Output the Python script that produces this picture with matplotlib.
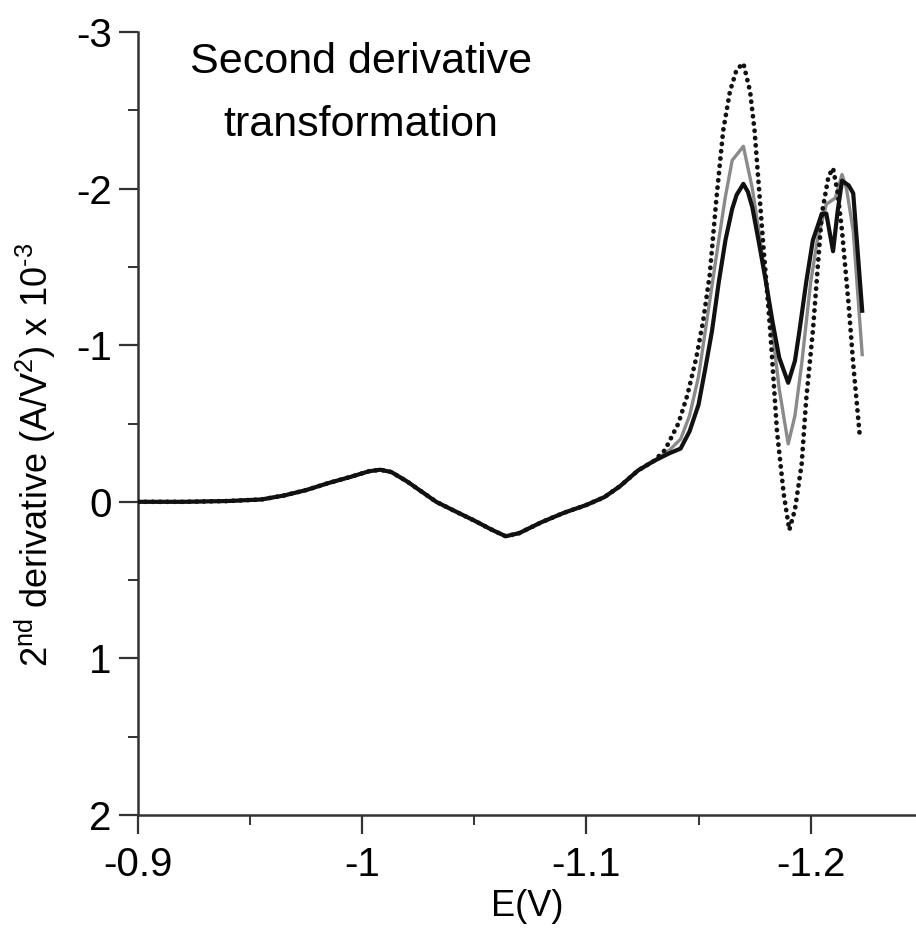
import matplotlib
matplotlib.use("Agg")
import matplotlib.pyplot as plt
from matplotlib.ticker import MultipleLocator, FuncFormatter

plt.rcParams['font.family'] = ['Liberation Sans', 'DejaVu Sans']
plt.rcParams['mathtext.fontset'] = 'custom'
plt.rcParams['mathtext.rm'] = 'Liberation Sans'
plt.rcParams['mathtext.it'] = 'Liberation Sans'

# shared part of the three curves (they overlap up to about -1.13 V)
E_common = [-0.900, -0.920, -0.940, -0.955, -0.965, -0.975, -0.985, -0.995,
            -1.003, -1.008, -1.013, -1.020, -1.027, -1.033, -1.040, -1.050,
            -1.058, -1.064, -1.070, -1.080, -1.090, -1.100, -1.108, -1.115,
            -1.123, -1.130]
d2_common = [0.00, 0.00, -0.005, -0.015, -0.04, -0.075, -0.12, -0.16,
             -0.195, -0.205, -0.19, -0.13, -0.06, 0.00, 0.05, 0.12,
             0.18, 0.22, 0.20, 0.13, 0.07, 0.02, -0.03, -0.10,
             -0.20, -0.26]

# black solid
E_black = [-1.137, -1.142, -1.146, -1.150, -1.153, -1.156, -1.159, -1.162,
           -1.165, -1.167, -1.170, -1.172, -1.174, -1.177, -1.180, -1.183,
           -1.186, -1.190, -1.193, -1.195, -1.198, -1.201, -1.205, -1.207,
           -1.210, -1.212, -1.214, -1.217, -1.219, -1.223]
d2_black = [-0.31, -0.34, -0.45, -0.62, -0.85, -1.09, -1.40, -1.67,
            -1.87, -1.96, -2.03, -1.98, -1.88, -1.65, -1.41, -1.15,
            -0.92, -0.76, -0.90, -1.09, -1.40, -1.67, -1.84, -1.84,
            -1.60, -1.85, -2.05, -2.02, -1.97, -1.22]

# grey solid
E_grey = [-1.137, -1.142, -1.146, -1.150, -1.153, -1.156, -1.159, -1.162,
          -1.165, -1.170, -1.174, -1.177, -1.180, -1.183, -1.186, -1.190,
          -1.193, -1.196, -1.200, -1.203, -1.207, -1.211, -1.214, -1.216,
          -1.219, -1.223]
d2_grey = [-0.33, -0.40, -0.55, -0.80, -1.09, -1.38, -1.67, -1.95,
           -2.18, -2.27, -2.00, -1.72, -1.41, -1.08, -0.72, -0.37,
           -0.55, -0.88, -1.40, -1.67, -1.90, -1.94, -2.09, -2.00,
           -1.73, -0.94]

# black dotted
E_dot = [-1.135, -1.141, -1.145, -1.149, -1.152, -1.155, -1.158, -1.161,
         -1.164, -1.167, -1.170, -1.173, -1.175, -1.179, -1.182, -1.185,
         -1.188, -1.1905, -1.193, -1.196, -1.198, -1.201, -1.205, -1.208,
         -1.210, -1.212, -1.214, -1.217, -1.219, -1.222]
d2_dot = [-0.33, -0.50, -0.68, -0.92, -1.15, -1.45, -1.94, -2.37,
          -2.62, -2.76, -2.80, -2.62, -2.37, -1.62, -1.09, -0.45,
          -0.05, 0.18, 0.05, -0.24, -0.65, -1.09, -1.84, -2.08,
          -2.13, -1.98, -1.73, -1.25, -0.88, -0.41]

fig = plt.figure(figsize=(9.16, 9.35), dpi=100)
ax = fig.add_axes([0.1507, 0.1283, 0.8493, 0.8375])

ax.plot(E_common + E_black, d2_common + d2_black, color='#111111', lw=3.0,
        solid_joinstyle='round', zorder=3)
ax.plot(E_common + E_grey, d2_common + d2_grey, color='#8a8a8a', lw=2.4,
        solid_joinstyle='round', zorder=2)
ax.plot(E_common + E_dot, d2_common + d2_dot, color='#111111', lw=3.4,
        linestyle=(0, (0.05, 1.5)), dash_capstyle='round', zorder=4)

ax.set_xlim(-0.9, -1.247)
ax.set_ylim(2, -3)

for s in ['top', 'right']:
    ax.spines[s].set_visible(False)
for s in ['left', 'bottom']:
    ax.spines[s].set_linewidth(1.8)
    ax.spines[s].set_color('#333333')

ax.xaxis.set_major_locator(MultipleLocator(0.1))
ax.xaxis.set_minor_locator(MultipleLocator(0.05))
ax.yaxis.set_major_locator(MultipleLocator(1))
ax.yaxis.set_minor_locator(MultipleLocator(0.5))

fmt = FuncFormatter(lambda v, p: '%g' % round(v, 2) if abs(v) > 1e-9 else '0')
ax.xaxis.set_major_formatter(fmt)
ax.yaxis.set_major_formatter(fmt)

ax.tick_params(which='major', length=14, width=1.6, color='#333333',
               labelsize=29, direction='out')
ax.tick_params(which='minor', length=7, width=1.4, color='#333333',
               direction='out')
ax.tick_params(axis='y', pad=5)
ax.tick_params(axis='x', pad=8)

ax.set_xlabel('E(V)', fontsize=26, labelpad=4)
ax.set_ylabel(r'2$^{\rm nd}$ derivative (A/V$^{2}$) x 10$^{\text{-3}}$',
              fontsize=26)
ax.yaxis.set_label_coords(-0.103, 0.46)

fig.text(361 / 916, 1 - 73 / 935, 'Second derivative', ha='center',
         va='baseline', fontsize=31)
fig.text(361 / 916, 1 - 136 / 935, 'transformation', ha='center',
         va='baseline', fontsize=31)

fig.savefig('out.png', dpi=100)
